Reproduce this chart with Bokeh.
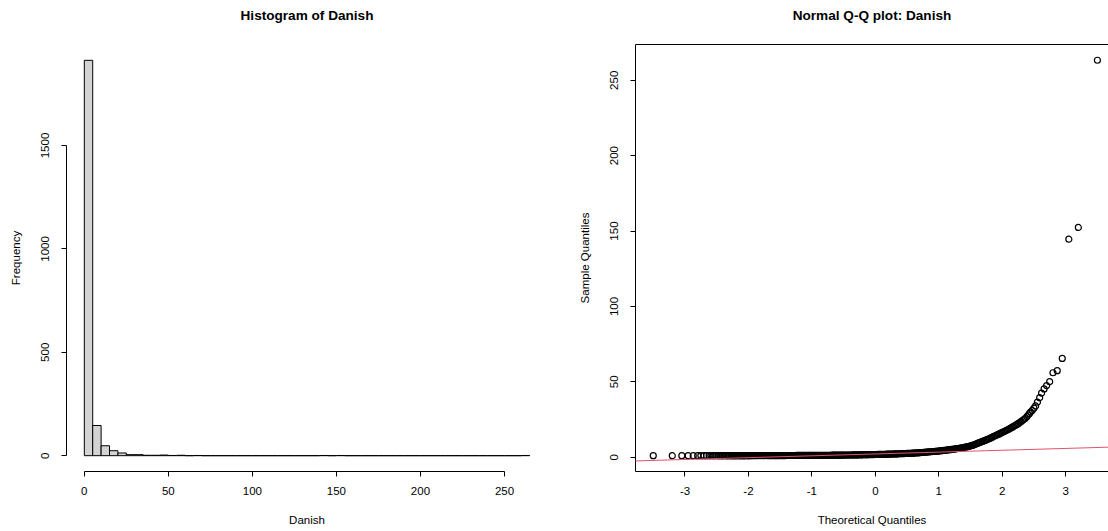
from bokeh.plotting import figure
from bokeh.layouts import row
from bokeh.models import Range1d, LinearAxis, FixedTicker, Slope, PrintfTickFormatter
from bokeh.embed import file_html
from bokeh.resources import INLINE

# Danish fire-insurance losses (millions of DKK), 2167 claims
hist_breaks = list(range(0, 270, 5))
hist_counts = [1912, 146, 48, 24, 13, 5, 5, 2, 2, 3, 1, 2, 0, 1,
               0, 0, 0, 0, 0, 0, 0, 0, 0, 0, 0, 0, 0, 0,
               1, 0, 1,
               0, 0, 0, 0, 0, 0, 0, 0, 0, 0, 0, 0, 0, 0, 0, 0, 0, 0, 0, 0, 0,
               1]
hist_xticks = [0, 50, 100, 150, 200, 250]
hist_yticks = [0, 500, 1000, 1500]

# normal Q-Q plot: theoretical quantile vs. sample quantile
qq_theoretical = [
    # lower tail
    -3.50, -3.20, -3.05, -2.95, -2.87, -2.80, -2.75, -2.70, -2.66, -2.62,
    -2.59, -2.555, -2.527, -2.50, -2.474, -2.45, -2.43, -2.41, -2.39,
    # body
    -2.36, -2.34, -2.32, -2.30, -2.28, -2.26, -2.24, -2.22, -2.20, -2.18,
    -2.16, -2.14, -2.12, -2.10, -2.08, -2.06, -2.04, -2.02, -2.00, -1.98,
    -1.96, -1.94, -1.92, -1.90, -1.88, -1.86, -1.84, -1.82, -1.80, -1.78,
    -1.76, -1.74, -1.72, -1.70, -1.68, -1.66, -1.64, -1.62, -1.60, -1.58,
    -1.56, -1.54, -1.52, -1.50, -1.48, -1.46, -1.44, -1.42, -1.40, -1.38,
    -1.36, -1.34, -1.32, -1.30, -1.28, -1.26, -1.24, -1.22, -1.20, -1.18,
    -1.16, -1.14, -1.12, -1.10, -1.08, -1.06, -1.04, -1.02, -1.00, -0.98,
    -0.96, -0.94, -0.92, -0.90, -0.88, -0.86, -0.84, -0.82, -0.80, -0.78,
    -0.76, -0.74, -0.72, -0.70, -0.68, -0.66, -0.64, -0.62, -0.60, -0.58,
    -0.56, -0.54, -0.52, -0.50, -0.48, -0.46, -0.44, -0.42, -0.40, -0.38,
    -0.36, -0.34, -0.32, -0.30, -0.28, -0.26, -0.24, -0.22, -0.20, -0.18,
    -0.16, -0.14, -0.12, -0.10, -0.08, -0.06, -0.04, -0.02, 0.00, 0.02,
    0.04, 0.06, 0.08, 0.10, 0.12, 0.14, 0.16, 0.18, 0.20, 0.22,
    0.24, 0.26, 0.28, 0.30, 0.32, 0.34, 0.36, 0.38, 0.40, 0.42,
    0.44, 0.46, 0.48, 0.50, 0.52, 0.54, 0.56, 0.58, 0.60, 0.62,
    0.64, 0.66, 0.68, 0.70, 0.72, 0.74, 0.76, 0.78, 0.80, 0.82,
    0.84, 0.86, 0.88, 0.90, 0.92, 0.94, 0.96, 0.98, 1.00, 1.02,
    1.04, 1.06, 1.08, 1.10, 1.12, 1.14, 1.16, 1.18, 1.20, 1.22,
    1.24, 1.26, 1.28, 1.30, 1.32, 1.34, 1.36, 1.38, 1.40, 1.42,
    1.44, 1.46, 1.48, 1.50, 1.52, 1.54, 1.56, 1.58, 1.60, 1.62,
    1.64, 1.66, 1.68, 1.70, 1.72, 1.74, 1.76, 1.78, 1.80, 1.82,
    1.84, 1.86, 1.88, 1.90, 1.92, 1.94, 1.96, 1.98, 2.00, 2.02,
    2.04, 2.06, 2.08, 2.10, 2.12, 2.14, 2.16, 2.18, 2.20, 2.22,
    2.24, 2.26, 2.28, 2.30, 2.32, 2.34, 2.36,
    # upper tail
    2.39, 2.41, 2.43, 2.45, 2.474, 2.50, 2.527, 2.555, 2.59, 2.62,
    2.66, 2.70, 2.748, 2.80, 2.867, 2.946, 3.05, 3.20, 3.50,
]
qq_sample = [
    # lower tail
    1.00, 1.00, 1.00, 1.00, 1.00, 1.00, 1.00, 1.00, 1.00, 1.00,
    1.00, 1.00, 1.00, 1.00, 1.00, 1.00, 1.00, 1.00, 1.00,
    # body
    1.01, 1.01, 1.01, 1.01, 1.01, 1.01, 1.02, 1.02, 1.02, 1.02,
    1.02, 1.02, 1.02, 1.02, 1.03, 1.03, 1.03, 1.03, 1.03, 1.03,
    1.04, 1.04, 1.04, 1.04, 1.04, 1.04, 1.05, 1.05, 1.05, 1.05,
    1.06, 1.06, 1.06, 1.06, 1.07, 1.07, 1.07, 1.07, 1.08, 1.08,
    1.08, 1.08, 1.09, 1.09, 1.09, 1.09, 1.10, 1.10, 1.11, 1.11,
    1.11, 1.11, 1.12, 1.12, 1.13, 1.13, 1.14, 1.14, 1.15, 1.15,
    1.15, 1.15, 1.16, 1.16, 1.17, 1.17, 1.18, 1.18, 1.19, 1.19,
    1.20, 1.20, 1.21, 1.21, 1.22, 1.23, 1.23, 1.24, 1.25, 1.25,
    1.26, 1.27, 1.28, 1.30, 1.31, 1.32, 1.33, 1.34, 1.35, 1.36,
    1.37, 1.38, 1.39, 1.40, 1.41, 1.42, 1.44, 1.45, 1.46, 1.47,
    1.49, 1.50, 1.51, 1.52, 1.54, 1.55, 1.57, 1.58, 1.60, 1.62,
    1.64, 1.65, 1.67, 1.69, 1.71, 1.72, 1.74, 1.76, 1.78, 1.80,
    1.82, 1.84, 1.86, 1.88, 1.90, 1.93, 1.95, 1.98, 2.00, 2.03,
    2.06, 2.09, 2.12, 2.15, 2.18, 2.21, 2.24, 2.27, 2.30, 2.34,
    2.37, 2.41, 2.45, 2.49, 2.53, 2.57, 2.61, 2.66, 2.71, 2.76,
    2.81, 2.87, 2.93, 2.99, 3.05, 3.12, 3.19, 3.26, 3.33, 3.40,
    3.47, 3.55, 3.62, 3.70, 3.78, 3.86, 3.94, 4.02, 4.11, 4.20,
    4.30, 4.40, 4.50, 4.60, 4.70, 4.80, 4.90, 5.00, 5.12, 5.25,
    5.37, 5.50, 5.62, 5.75, 5.90, 6.05, 6.20, 6.35, 6.52, 6.70,
    6.87, 7.05, 7.25, 7.45, 7.70, 7.95, 8.25, 8.60, 8.95, 9.30,
    9.65, 10.0, 10.3, 10.6, 10.95, 11.3, 11.65, 12.0, 12.4, 12.8,
    13.2, 13.6, 14.0, 14.4, 14.8, 15.2, 15.6, 16.0, 16.4, 16.8,
    17.2, 17.6, 18.05, 18.5, 18.95, 19.4, 19.9, 20.4, 20.9, 21.4,
    21.95, 22.5, 23.1, 23.7, 24.35, 25.0, 25.6,
    # upper tail
    27.0, 28.0, 29.0, 30.0, 31.0, 32.5, 34.0, 36.5, 39.5, 42.5,
    45.3, 47.5, 50.1, 56.0, 57.4, 65.5, 144.6, 152.4, 263.3,
]
qq_xticks = [-3, -2, -1, 0, 1, 2, 3]
qq_yticks = [0, 50, 100, 150, 200, 250]

# quartiles used for the reference line
z_quartiles = [-0.674, 0.674]
sample_quartiles = [1.32, 2.97]

FONT = "Liberation Sans"
LINE_RED = "#DF536B"


def style_axis(axis, ticks, label, vertical=False, bounds=None):
    axis.ticker = FixedTicker(ticks=ticks)
    axis.formatter = PrintfTickFormatter(format="%d")
    axis.axis_label = label
    axis.minor_tick_line_color = None
    axis.major_tick_in = 0
    axis.major_tick_out = 5
    axis.major_tick_line_color = "black"
    axis.axis_line_color = "black"
    axis.major_label_text_font = FONT
    axis.major_label_text_font_size = "11.5px"
    axis.major_label_text_color = "black"
    axis.axis_label_text_font = FONT
    axis.axis_label_text_font_size = "11.5px"
    axis.axis_label_text_font_style = "normal"
    axis.axis_label_text_color = "black"
    if vertical:
        axis.major_label_orientation = "vertical"
        axis.major_label_standoff = 12
        axis.axis_label_standoff = 17
    else:
        axis.major_label_standoff = 10
        axis.axis_label_standoff = 16
    if bounds is not None:
        axis.bounds = bounds


def base_figure(x_range, y_range, left, right, title, top_line):
    p = figure(width=554, height=531, x_range=x_range, y_range=y_range,
               output_backend="svg", toolbar_location=None,
               min_border_left=left, min_border_right=right,
               min_border_top=43, min_border_bottom=60, title=title)
    p.outline_line_color = None
    p.xgrid.grid_line_color = None
    p.ygrid.grid_line_color = None
    p.background_fill_color = "white"
    p.border_fill_color = "white"
    p.title.align = "center"
    p.title.text_font = FONT
    p.title.text_font_size = "13.6px"
    p.title.text_font_style = "bold"
    p.title.text_color = "black"
    # tick-less top axis: draws the upper box edge (if wanted); its blank
    # label keeps the title clear of the plotting region
    top_axis = LinearAxis(ticker=FixedTicker(ticks=[]),
                          axis_line_color="black" if top_line else None,
                          major_tick_line_color=None, minor_tick_line_color=None,
                          major_label_text_font_size="0px",
                          axis_label=" ", axis_label_standoff=2,
                          axis_label_text_font=FONT,
                          axis_label_text_font_size="11px",
                          axis_label_text_color=None)
    p.add_layout(top_axis, "above")
    return p


# ---- histogram ----
hist_left = hist_breaks[:-1]
hist_right = hist_breaks[1:]
p1 = base_figure(Range1d(-10.6, 275.6), Range1d(-76.5, 1988.5), 66, 7,
                 "Histogram of Danish", top_line=False)
p1.quad(left=hist_left, right=hist_right, top=hist_counts, bottom=0,
        fill_color="#D3D3D3", line_color="black", line_width=1)
style_axis(p1.below[0], hist_xticks, "Danish", bounds=(0, 250))
style_axis(p1.left[0], hist_yticks, "Frequency", vertical=True, bounds=(0, 1500))

# ---- normal Q-Q plot ----
p2 = base_figure(Range1d(-3.78, 3.675), Range1d(-9.49, 273.74), 81, 0,
                 "Normal Q-Q plot: Danish", top_line=True)
p2.scatter(qq_theoretical, qq_sample, marker="circle", size=6,
           fill_color=None, line_color="black", line_width=1.2)
gradient = (sample_quartiles[1] - sample_quartiles[0]) / (z_quartiles[1] - z_quartiles[0])
intercept = sample_quartiles[0] - gradient * z_quartiles[0]
p2.add_layout(Slope(gradient=gradient, y_intercept=intercept,
                    line_color=LINE_RED, line_width=1))
style_axis(p2.below[0], qq_xticks, "Theoretical Quantiles")
style_axis(p2.left[0], qq_yticks, "Sample Quantiles", vertical=True)

layout = row(p1, p2, spacing=0)
open("out.html", "w").write(file_html(layout, INLINE))
